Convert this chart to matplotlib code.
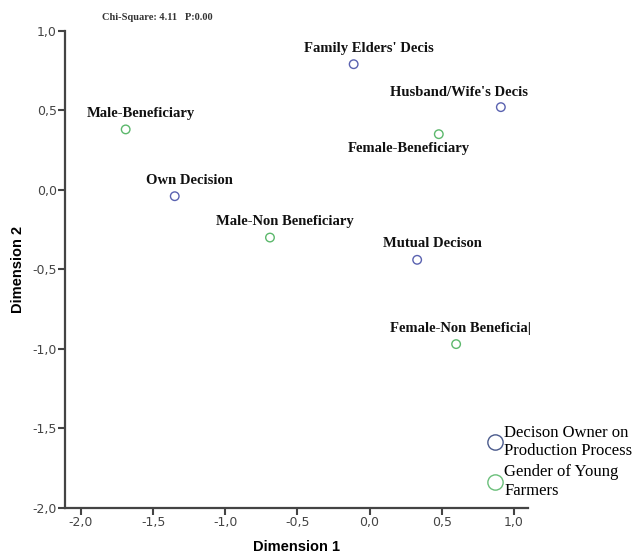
import matplotlib
matplotlib.use('Agg')
import matplotlib.pyplot as plt
from matplotlib.lines import Line2D

# Category points (Dimension 1, Dimension 2)
decision_labels = ["Family Elders' Decis", "Husband/Wife's Decis", "Own Decision", "Mutual Decison"]
decision_x = [-0.11, 0.91, -1.35, 0.33]
decision_y = [0.79, 0.52, -0.04, -0.44]

gender_labels = ["Male-Beneficiary", "Female-Beneficiary", "Male-Non Beneficiary", "Female-Non Beneficia|"]
gender_x = [-1.69, 0.48, -0.69, 0.60]
gender_y = [0.38, 0.35, -0.30, -0.97]

legend_labels = ["Decison Owner on\nProduction Process", "Gender of Young\nFarmers"]
x_ticks = [-2.0, -1.5, -1.0, -0.5, 0.0, 0.5, 1.0]
y_ticks = [-2.0, -1.5, -1.0, -0.5, 0.0, 0.5, 1.0]

blue = '#5a62b0'
green = '#5cb86c'

# label offsets in points (label centre relative to its point)
default_off = (10.8, 11.5)
label_off = {
    "Husband/Wife's Decis": (-30, 10.4),
    "Female-Beneficiary": (-21.6, -10.6),
    "Female-Non Beneficia|": (3.5, 11.5),
}

fig = plt.figure(figsize=(6.38, 5.6), dpi=100)
ax = fig.add_axes([0.102, 0.093, 0.726, 0.852])

ax.scatter(decision_x, decision_y, s=38, facecolors='none', edgecolors=blue, linewidths=1.0, zorder=3)
ax.scatter(gender_x, gender_y, s=38, facecolors='none', edgecolors=green, linewidths=1.0, zorder=3)

for lab, x, y in list(zip(decision_labels, decision_x, decision_y)) + list(zip(gender_labels, gender_x, gender_y)):
    off = label_off.get(lab, default_off)
    ax.annotate(lab, (x, y), xytext=off, textcoords='offset points', ha='center', va='center',
                fontfamily='Liberation Serif', fontweight='bold', fontsize=10.5, color='#111111')

ax.set_xlim(-2.11, 1.10)
ax.set_ylim(-2.0, 1.0)
ax.set_xticks(x_ticks)
ax.set_yticks(y_ticks)
ax.set_xticklabels([f'{v:.1f}'.replace('.', ',') for v in x_ticks])
ax.set_yticklabels([f'{v:.1f}'.replace('.', ',') for v in y_ticks])
ax.tick_params(direction='out', length=5, width=1.5, color='#444444', labelsize=9,
               labelcolor='#444444', pad=1)

for side in ['top', 'right']:
    ax.spines[side].set_visible(False)
for side in ['left', 'bottom']:
    ax.spines[side].set_linewidth(1.6)
    ax.spines[side].set_color('#444444')

ax.set_xlabel('Dimension 1', fontfamily='Liberation Sans', fontweight='bold', fontsize=10.5, labelpad=8)
ax.set_ylabel('Dimension 2', fontfamily='Liberation Sans', fontweight='bold', fontsize=10.5, labelpad=5)

fig.text(157 / 638, 1 - 18 / 560, 'Chi-Square: 4.11   P:0.00', ha='center', va='center',
         fontfamily='Liberation Serif', fontweight='bold', fontsize=7.5, color='#333333')

handles = [
    Line2D([], [], marker='o', linestyle='none', markersize=11, markerfacecolor='none',
           markeredgecolor='#4a5a8c', markeredgewidth=1.0),
    Line2D([], [], marker='o', linestyle='none', markersize=11, markerfacecolor='none',
           markeredgecolor='#6abf7a', markeredgewidth=1.0),
]
fig.legend(handles, legend_labels, loc='upper left', bbox_to_anchor=(487 / 638, 1 - 425 / 560),
           frameon=False, handlelength=0.9, handletextpad=0.15, labelspacing=0.3,
           borderaxespad=0, borderpad=0,
           prop={'family': 'Liberation Serif', 'size': 12})

fig.savefig('out.png', dpi=100)
